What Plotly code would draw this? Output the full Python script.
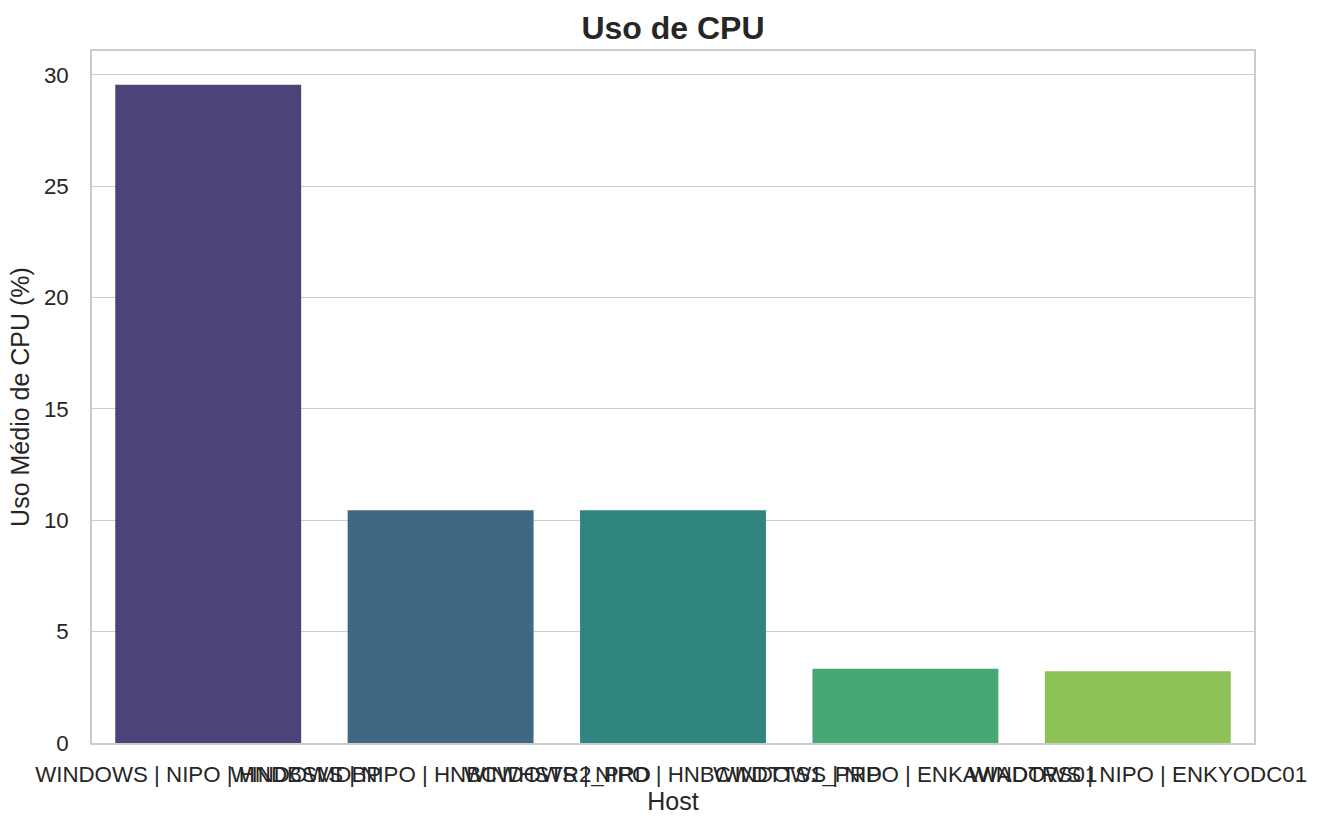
import plotly.graph_objects as go

hosts = [
    "WINDOWS | NIPO | HNDBSMDBP",
    "WINDOWS | NIPO | HNBCWHSTR2_PRD",
    "WINDOWS | NIPO | HNBCWDTTS1_PRD",
    "WINDOWS | NIPO | ENKAWADTRS01",
    "WINDOWS | NIPO | ENKYODC01",
]
cpu_avg = [29.55, 10.45, 10.45, 3.33, 3.22]
colors = ["#4c4479", "#3f6884", "#30857f", "#46a875", "#8dc356"]

fig = go.Figure(go.Bar(
    x=list(range(len(hosts))), y=cpu_avg, width=0.8,
    marker=dict(color=colors, line=dict(width=0)),
))

font_family = "Arial, Liberation Sans, sans-serif"
fig.update_layout(
    width=1326, height=830,
    margin=dict(l=92, r=72, t=51, b=87, autoexpand=False),
    paper_bgcolor="white", plot_bgcolor="white",
    font=dict(family=font_family, color="#262626"),
    title=dict(text="<b>Uso de CPU</b>", x=0.5, xanchor="center", xref="paper",
               y=1 - 28 / 830, yanchor="middle", font=dict(size=32, color="#262626")),
    showlegend=False, bargap=0.2,
)
fig.update_xaxes(
    range=[-0.5, 4.5], tickmode="array", tickvals=list(range(len(hosts))), ticktext=hosts,
    tickangle=0, tickfont=dict(size=22.3), showgrid=False, zeroline=False,
    showline=True, linecolor="#cccccc", linewidth=1.6, mirror=True, automargin=False,
    ticks="outside", ticklen=10, tickcolor="rgba(0,0,0,0)",
    title=dict(text="Host", font=dict(size=25), standoff=4),
)
fig.update_yaxes(
    range=[0, 31.07], tickmode="array", tickvals=[0, 5, 10, 15, 20, 25, 30],
    tickfont=dict(size=22.3), showgrid=True, gridcolor="#cccccc", gridwidth=1.3,
    zeroline=False, showline=True, linecolor="#cccccc", linewidth=1.6, mirror=True,
    automargin=False, ticks="outside", ticklen=17, tickcolor="rgba(0,0,0,0)",
    title=dict(text="Uso Médio de CPU (%)", font=dict(size=25), standoff=7),
)
fig.write_html("out.html", post_script="document.body.style.margin='0';",
               config={"displayModeBar": False})
